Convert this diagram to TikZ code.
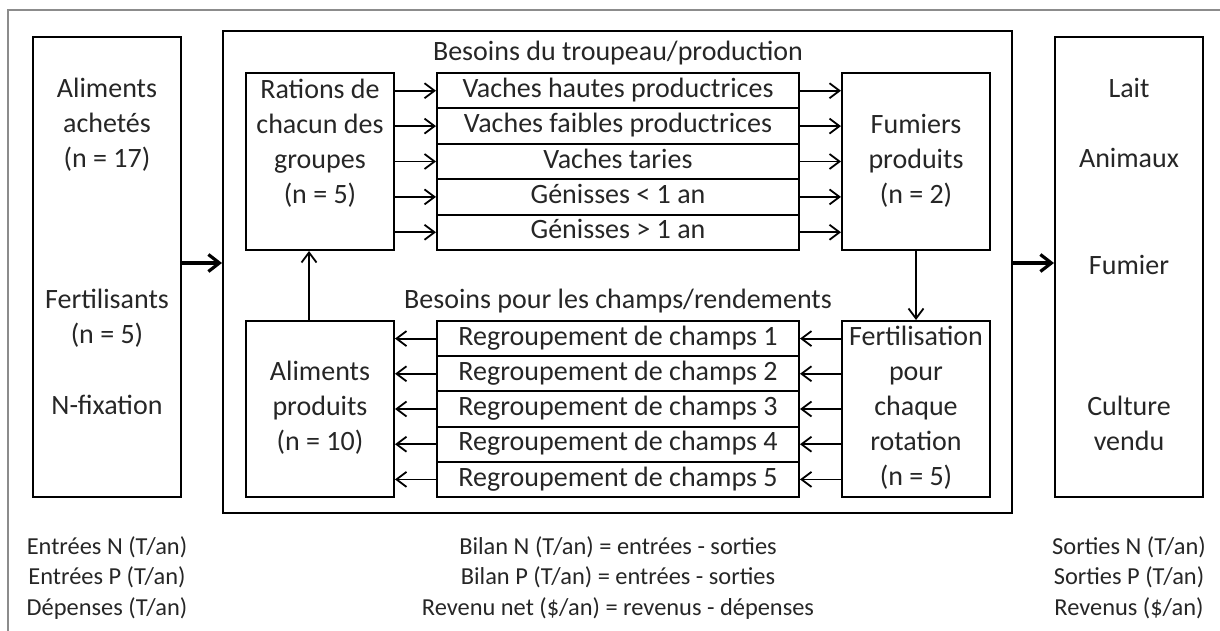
\documentclass[tikz,border=0pt]{standalone}
\usepackage{fontspec}
\setmainfont{Carlito}
\usetikzlibrary{arrows.meta}
\newcommand\ls{\rule[-3pt]{0pt}{12pt}}
\tikzset{
  txt/.style={inner sep=0pt, align=center, text=black!85,
    font=\fontsize{14}{17.5}\selectfont,
    execute at begin node=\ls, execute at end node=\ls},
  boite/.style={txt, draw, line width=1pt},
  ligne/.style={boite, minimum width=181pt, minimum height=17.7pt},
  bilan/.style={txt, font=\fontsize{12.2}{15.25}\selectfont},
  fl/.style={-{Straight Barb[length=5pt,width=7.5pt]}, line width=0.9pt},
  grandfl/.style={-{Straight Barb[length=5.5pt,width=8.5pt]}, line width=1.6pt}
}
\begin{document}
\begin{tikzpicture}[x=0.5pt, y=-0.5pt]
\useasboundingbox (0,0) rectangle (1220,631);
% cadre
\draw[black!45, line width=1pt] (8,631) -- (8,10) -- (1220,10);
% entrees / ferme / sorties
\node[boite, minimum width=74pt, minimum height=230pt] (entrees) at (107,267) {};
\node[boite, minimum width=394.5pt, minimum height=241pt] (ferme) at (617.5,272) {};
\node[boite, minimum width=74pt, minimum height=230pt] (sorties) at (1129,267) {};
\node[txt] (achat) at (107,126) {Aliments\\achetés\\(n = 17)};
\node[txt] (fert) at (107,319.5) {Fertilisants\\(n = 5)};
\node[txt] (fix) at (107,408) {N-fixation};
\node[txt] (lait) at (1129,91) {Lait};
\node[txt] (anim) at (1129,161) {Animaux};
\node[txt] (fum) at (1129,268) {Fumier};
\node[txt] (cult) at (1129,426) {Culture\\vendu};
% troupeau
\node[txt] (titreA) at (618,54) {Besoins du troupeau/production};
\node[boite, minimum width=74pt, minimum height=88.5pt] (rations) at (320,161.5)
  {Rations de\\chacun des\\groupes\\(n = 5)\\};
\node[boite, minimum width=74pt, minimum height=88.5pt] (fumiers) at (916,161.5)
  {Fumiers\\produits\\(n = 2)};
\foreach \t [count=\i] in {Vaches hautes productrices, Vaches faibles productrices,
    Vaches taries, Génisses < 1 an, Génisses > 1 an} {
  \node[ligne] (h\i) at (618,{73+35.4*(\i-0.5)}) {\t};
  \draw[fl] (rations.east |- h\i.west) -- (h\i.west);
  \draw[fl] (h\i.east) -- (fumiers.west |- h\i.east);
}
% champs
\node[txt] (titreB) at (618,302) {Besoins pour les champs/rendements};
\node[boite, minimum width=74pt, minimum height=88pt] (alim) at (320,409)
  {Aliments\\produits\\(n = 10)};
\node[boite, minimum width=74pt, minimum height=88pt] (rotation) at (916,409)
  {Fertilisation\\pour\\chaque\\rotation\\(n = 5)};
\foreach \i in {1,...,5} {
  \node[ligne, minimum height=17.6pt] (c\i) at (618,{321+35.2*(\i-0.5)})
    {Regroupement de champs \i};
  \draw[fl] (rotation.west |- c\i.east) -- (c\i.east);
  \draw[fl] (c\i.west) -- (alim.east |- c\i.west);
}
\coordinate (va) at (309,0);
\coordinate (hf) at (0,263);
\draw[fl] (fumiers.south) -- (rotation.north);
\draw[fl] (alim.north -| va) -- (rations.south -| va);
\draw[grandfl] (entrees.east |- hf) -- (ferme.west |- hf);
\draw[grandfl] (ferme.east |- hf) -- (sorties.west |- hf);
% bilans
\node[bilan] (bilE) at (107,579) {Entrées N (T/an)\\Entrées P (T/an)\\Dépenses (T/an)};
\node[bilan] (bilM) at (618,579) {Bilan N (T/an) = entrées - sorties\\Bilan P (T/an) = entrées - sorties\\Revenu net (\$/an) = revenus - dépenses};
\node[bilan] (bilS) at (1129,579) {Sorties N (T/an)\\Sorties P (T/an)\\Revenus (\$/an)};
\end{tikzpicture}
\end{document}
